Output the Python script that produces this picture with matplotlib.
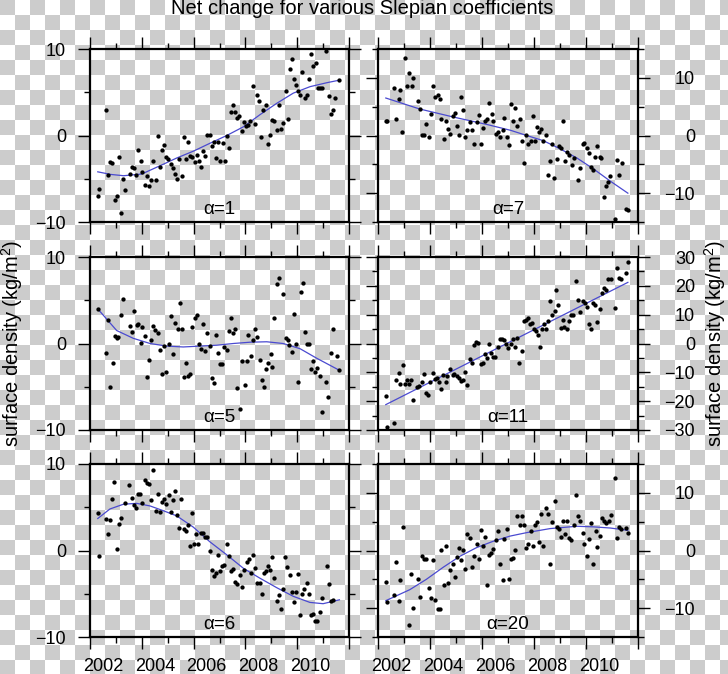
import numpy as np
import matplotlib
matplotlib.use("Agg")
import matplotlib.pyplot as plt
from matplotlib.ticker import MultipleLocator

plt.rcParams['font.family'] = ['Liberation Sans', 'DejaVu Sans']
plt.rcParams['mathtext.fontset'] = 'custom'
plt.rcParams['mathtext.rm'] = 'Liberation Sans'

# ---------------- data (year, surface density kg/m^2) ----------------
alpha1_obs = [(2002.30, -7.0), (2002.36, -6.2), (2002.60, 2.9), (2002.68, -4.6), (2002.77, -3.1),
              (2002.85, -3.2), (2002.97, -7.5), (2003.03, -7.0), (2003.12, -2.5), (2003.20, -9.0),
              (2003.26, -5.0), (2003.35, -6.3), (2003.54, -4.4), (2003.61, -3.6), (2003.70, -3.7),
              (2003.79, -4.6), (2003.87, -1.7), (2003.96, -2.9), (2004.01, -4.2), (2004.12, -5.7),
              (2004.20, -4.7), (2004.28, -5.8), (2004.36, -5.2), (2004.45, -3.0), (2004.55, -5.1),
              (2004.61, -0.1), (2004.70, -3.6), (2004.79, -1.7), (2004.87, -1.1), (2004.95, -2.5),
              (2005.02, -2.7), (2005.13, -3.3), (2005.22, -3.7), (2005.29, -4.4), (2005.37, -5.0),
              (2005.45, -2.7), (2005.54, -4.7), (2005.63, -0.2), (2005.71, -2.7), (2005.78, -0.8),
              (2005.87, -2.4), (2005.95, -2.5), (2006.04, -3.1), (2006.12, -2.2), (2006.20, -3.0),
              (2006.29, -3.6), (2006.38, -1.8), (2006.45, -2.4), (2006.53, 0.1), (2006.62, 0.1),
              (2006.70, -1.2), (2006.77, -0.7), (2006.88, -2.6), (2006.95, -0.8), (2007.03, -3.0),
              (2007.12, -0.9), (2007.20, -2.9), (2007.29, -0.1), (2007.37, -1.5), (2007.44, 2.7),
              (2007.52, 3.5), (2007.61, 2.7), (2007.69, 2.0), (2007.77, 2.3), (2007.86, 0.5),
              (2007.93, 1.6), (2008.02, 1.1), (2008.10, 1.2), (2008.19, 1.7), (2008.28, 5.7),
              (2008.37, 1.3), (2008.45, 4.7), (2008.54, 4.0), (2008.62, -0.2), (2008.69, 2.9),
              (2008.78, 3.5), (2008.87, -1.0), (2008.96, 0.1), (2009.04, 1.8), (2009.12, 1.7),
              (2009.21, 0.6), (2009.28, 3.5), (2009.36, 0.8), (2009.46, 1.5), (2009.55, 5.2),
              (2009.63, 1.9), (2009.71, 7.7), (2009.79, 8.9), (2009.86, 6.5), (2009.95, 5.8),
              (2010.03, 5.1), (2010.11, 4.7), (2010.20, 7.3), (2010.29, 4.3), (2010.37, 4.7),
              (2010.46, 6.5), (2010.55, 9.4), (2010.62, 8.0), (2010.71, 8.4), (2010.79, 5.5),
              (2010.87, 5.5), (2010.96, 5.5), (2011.11, 9.8), (2011.21, 4.6), (2011.29, 2.5),
              (2011.37, 3.0), (2011.46, 4.3), (2011.63, 6.4)]
alpha1_fit = [(2002.3, -4.2), (2002.8, -4.5), (2003.3, -4.65), (2004.0, -4.45), (2004.7, -3.5),
              (2005.35, -2.6), (2006.0, -1.8), (2006.63, -0.9), (2007.28, 0.0), (2007.92, 1.0),
              (2008.56, 2.4), (2009.2, 3.7), (2009.85, 4.9), (2010.5, 5.65), (2011.14, 6.1),
              (2011.63, 6.4)]

alpha7_obs = [(2002.30, 2.6), (2002.35, 2.6), (2002.62, 8.3), (2002.68, 2.9), (2002.80, 6.3),
              (2002.86, 7.9), (2002.94, 0.6), (2003.03, 13.5), (2003.13, 8.5), (2003.20, 10.8),
              (2003.29, 8.5), (2003.35, 10.0), (2003.54, 6.0), (2003.62, 4.6), (2003.71, 0.1),
              (2003.77, 0.1), (2003.86, 2.0), (2003.95, -0.2), (2004.02, 3.7), (2004.12, 8.6),
              (2004.21, 6.7), (2004.29, 7.1), (2004.37, 6.4), (2004.44, 2.8), (2004.53, -0.6),
              (2004.62, 2.5), (2004.70, 1.1), (2004.78, 0.3), (2004.87, 3.3), (2004.96, 3.9),
              (2005.05, 1.6), (2005.12, 0.1), (2005.20, 6.6), (2005.28, 4.4), (2005.35, -0.3),
              (2005.44, 1.0), (2005.53, 2.4), (2005.61, 1.0), (2005.70, -1.4), (2005.79, 2.4),
              (2005.87, 3.5), (2005.95, -1.5), (2006.04, 1.3), (2006.11, 2.5), (2006.20, 2.9),
              (2006.28, 5.6), (2006.37, 3.8), (2006.43, 2.6), (2006.54, 0.2), (2006.60, 0.6),
              (2006.70, -0.3), (2006.79, 1.0), (2006.86, 3.1), (2006.95, -0.3), (2007.04, -1.6),
              (2007.12, 5.4), (2007.19, 2.6), (2007.27, 4.8), (2007.36, 1.7), (2007.46, 2.8),
              (2007.55, -0.9), (2007.63, -4.8), (2007.69, 0.1), (2007.78, -1.5), (2007.87, -0.9),
              (2007.95, 3.4), (2008.04, -1.0), (2008.11, 1.5), (2008.20, 0.6), (2008.26, 1.2),
              (2008.36, -1.0), (2008.45, 0.1), (2008.53, -6.8), (2008.62, -4.4), (2008.71, -1.5),
              (2008.77, -7.4), (2008.88, -4.1), (2008.97, -1.9), (2009.03, -2.1), (2009.11, 2.5),
              (2009.20, -4.5), (2009.27, -2.8), (2009.36, -3.3), (2009.46, -5.1), (2009.53, -3.9),
              (2009.69, -7.8), (2009.78, -5.7), (2009.87, -1.5), (2009.94, -1.3), (2010.02, -2.1),
              (2010.10, -3.0), (2010.19, -5.4), (2010.26, -6.0), (2010.35, -3.8), (2010.43, -1.9),
              (2010.52, -3.8), (2010.59, -3.9), (2010.71, -10.6), (2010.78, -8.7), (2010.84, -8.1),
              (2010.93, -7.1), (2011.13, -14.5), (2011.19, -4.2), (2011.28, -6.8), (2011.37, -4.8),
              (2011.54, -12.8), (2011.61, -12.9)]
alpha7_fit = [(2002.3, 6.5), (2003.6, 4.6), (2004.9, 3.2), (2006.2, 1.9), (2007.1, 0.9),
              (2007.72, 0.0), (2008.36, -0.9), (2009.0, -2.3), (2009.65, -3.9), (2010.29, -5.8),
              (2010.93, -7.9), (2011.61, -10.0)]

alpha5_obs = [(2002.30, 4.0), (2002.62, -1.1), (2002.68, 2.7), (2002.77, -5.0), (2002.88, -2.2),
              (2002.97, 0.9), (2003.03, 0.6), (2003.09, 0.8), (2003.20, 3.3), (2003.27, 5.1),
              (2003.54, 2.0), (2003.62, 1.3), (2003.70, 3.7), (2003.80, 2.1), (2003.87, 2.2),
              (2003.96, 0.1), (2004.02, 1.9), (2004.11, 0.9), (2004.20, -3.9), (2004.29, -1.9),
              (2004.37, 0.4), (2004.45, 2.0), (2004.52, 1.6), (2004.61, 1.2), (2004.70, -0.8),
              (2004.78, -3.5), (2004.87, -0.3), (2004.95, -3.3), (2005.05, -0.1), (2005.14, 3.2),
              (2005.20, -1.2), (2005.29, 2.4), (2005.38, 1.7), (2005.46, 4.7), (2005.54, 1.7),
              (2005.63, -3.9), (2005.71, -2.2), (2005.78, -3.7), (2005.87, -3.5), (2005.95, 1.9),
              (2006.04, 3.0), (2006.12, 3.3), (2006.20, -0.1), (2006.29, -0.6), (2006.36, 2.3),
              (2006.45, -0.9), (2006.53, 1.2), (2006.62, -0.3), (2006.70, -4.0), (2006.77, -4.6),
              (2006.86, 1.0), (2006.94, -1.1), (2007.03, -2.4), (2007.10, -2.4), (2007.19, -0.4),
              (2007.28, -0.8), (2007.35, 1.5), (2007.44, 3.0), (2007.52, 1.2), (2007.60, 1.7),
              (2007.69, -5.1), (2007.79, -7.6), (2007.88, -2.0), (2007.97, -4.8), (2008.05, -2.0),
              (2008.11, 1.0), (2008.20, -1.4), (2008.29, 0.4), (2008.37, 1.7), (2008.45, 0.7),
              (2008.55, -1.9), (2008.64, -4.2), (2008.71, -5.0), (2008.80, -3.0), (2008.89, -2.2),
              (2008.98, -1.2), (2009.04, -2.7), (2009.12, 2.9), (2009.21, 6.9), (2009.28, 7.6),
              (2009.45, 5.7), (2009.55, 0.6), (2009.63, 0.4), (2009.70, -0.2), (2009.80, -1.0),
              (2009.88, 3.4), (2009.97, -0.1), (2010.04, -4.4), (2010.13, 5.9), (2010.21, 7.0),
              (2010.29, 1.3), (2010.37, 0.0), (2010.46, 0.0), (2010.53, -3.0), (2010.61, -2.0),
              (2010.70, -3.3), (2010.78, -2.8), (2010.87, -3.8), (2010.97, -7.9), (2011.12, -4.5),
              (2011.20, -6.2), (2011.29, -1.1), (2011.38, 1.7), (2011.55, -1.5), (2011.63, -3.1)]
alpha5_fit = [(2002.3, 4.0), (2003.03, 1.5), (2003.67, 0.6), (2004.32, 0.0), (2004.96, -0.3),
              (2005.6, -0.4), (2006.25, -0.3), (2006.89, -0.2), (2007.53, 0.0), (2008.18, 0.15),
              (2008.82, 0.2), (2009.46, 0.0), (2010.11, -0.6), (2010.75, -1.7), (2011.63, -3.1)]

alpha11_obs = [(2002.30, -18.2), (2002.36, -28.9), (2002.62, -27.4), (2002.71, -12.7), (2002.80, -10.1),
               (2002.86, -13.9), (2002.95, -7.4), (2003.03, -14.1), (2003.12, -12.7), (2003.18, -14.2),
               (2003.26, -12.7), (2003.35, -19.7), (2003.50, -15.0), (2003.58, -14.8), (2003.68, -13.3),
               (2003.76, -10.6), (2003.85, -17.3), (2003.93, -17.7), (2003.99, -13.5), (2004.10, -10.2),
               (2004.20, -12.4), (2004.28, -11.9), (2004.35, -13.5), (2004.43, -15.8), (2004.51, -11.0),
               (2004.61, -13.5), (2004.67, -11.3), (2004.76, -9.0), (2004.87, -10.8), (2004.94, -10.6),
               (2005.02, -11.3), (2005.11, -12.1), (2005.19, -12.9), (2005.28, -12.7), (2005.35, -9.8),
               (2005.43, -14.5), (2005.54, -5.4), (2005.62, -6.7), (2005.70, -0.6), (2005.77, 0.6),
               (2005.86, 0.2), (2005.95, -7.2), (2006.02, -6.7), (2006.10, -3.5), (2006.18, -5.2),
               (2006.25, 0.0), (2006.33, -3.2), (2006.41, -4.6), (2006.50, -4.6), (2006.60, -1.2),
               (2006.68, 1.7), (2006.76, 1.7), (2006.85, 1.2), (2006.94, -0.2), (2007.01, -1.4),
               (2007.10, 0.0), (2007.18, 1.5), (2007.27, -1.2), (2007.36, 2.0), (2007.44, -6.6),
               (2007.53, -2.7), (2007.60, 7.9), (2007.68, 8.3), (2007.76, 8.7), (2007.85, 6.6),
               (2007.93, 7.2), (2008.00, 4.9), (2008.08, 4.3), (2008.14, 2.9), (2008.22, -1.2),
               (2008.30, 5.0), (2008.38, 6.6), (2008.46, 4.9), (2008.53, 7.9), (2008.62, 14.7),
               (2008.71, 9.8), (2008.79, 11.2), (2008.86, 18.7), (2008.94, 13.5), (2009.02, 5.4),
               (2009.10, 8.1), (2009.17, 5.8), (2009.26, 5.2), (2009.35, 7.9), (2009.43, 9.8),
               (2009.51, 9.8), (2009.60, 21.6), (2009.69, 15.0), (2009.78, 11.0), (2009.87, 14.7),
               (2009.96, 14.1), (2010.02, 12.7), (2010.11, 6.9), (2010.19, 4.9), (2010.28, 14.1),
               (2010.35, 13.3), (2010.44, 7.5), (2010.52, 11.9), (2010.61, 17.6), (2010.70, 19.1),
               (2010.78, 18.5), (2010.86, 22.5), (2010.95, 22.5), (2011.11, 12.4), (2011.19, 26.2),
               (2011.28, 22.8), (2011.36, 22.2), (2011.54, 24.6), (2011.61, 28.1)]
alpha11_fit = [(2002.3, -21.2), (2006.95, 0.0), (2011.61, 21.2)]

alpha6_obs = [(2002.30, 4.3), (2002.36, -0.6), (2002.60, 3.6), (2002.68, 1.9), (2002.77, 3.5),
              (2002.86, 6.0), (2002.94, 7.9), (2003.03, 0.2), (2003.12, 3.1), (2003.18, 3.8),
              (2003.35, 5.5), (2003.52, 7.6), (2003.61, 6.1), (2003.70, 5.3), (2003.79, 4.9),
              (2003.87, 6.5), (2003.94, 6.5), (2004.01, 5.5), (2004.12, 8.1), (2004.20, 7.8),
              (2004.28, 7.7), (2004.36, 5.8), (2004.45, 9.3), (2004.54, 4.6), (2004.61, 6.5),
              (2004.70, 4.5), (2004.79, 5.6), (2004.87, 6.0), (2004.95, 5.4), (2005.04, 6.4),
              (2005.13, 4.4), (2005.20, 5.8), (2005.29, 6.9), (2005.36, 4.1), (2005.45, 2.6),
              (2005.53, 6.0), (2005.62, 2.5), (2005.69, 2.2), (2005.78, 2.9), (2005.87, 0.5),
              (2005.95, 4.3), (2006.03, 0.7), (2006.11, 1.9), (2006.18, 0.7), (2006.27, 2.0),
              (2006.35, 2.0), (2006.44, 1.6), (2006.52, 1.6), (2006.62, 0.0), (2006.70, -2.2),
              (2006.77, -2.9), (2006.86, -2.6), (2006.94, -0.5), (2007.03, -2.4), (2007.11, -1.8),
              (2007.19, -1.7), (2007.28, 0.8), (2007.35, -0.6), (2007.44, -2.4), (2007.52, -2.1),
              (2007.61, -3.6), (2007.69, -3.9), (2007.79, -2.8), (2007.87, -4.2), (2007.96, -2.2),
              (2008.05, -1.3), (2008.13, -1.0), (2008.22, -2.6), (2008.29, -0.5), (2008.38, -2.0),
              (2008.46, -3.7), (2008.55, -3.8), (2008.63, -5.0), (2008.72, -2.6), (2008.80, -2.4),
              (2008.89, -1.8), (2008.96, -2.2), (2009.04, -0.8), (2009.12, -3.2), (2009.21, -5.8),
              (2009.28, -5.2), (2009.36, -6.8), (2009.45, -4.4), (2009.52, -0.8), (2009.62, -1.9),
              (2009.71, -2.8), (2009.79, -4.8), (2009.86, -6.0), (2009.95, -4.8), (2010.03, -2.7),
              (2010.12, -7.4), (2010.20, -5.0), (2010.28, -4.4), (2010.37, -3.7), (2010.44, -5.0),
              (2010.53, -7.5), (2010.62, -7.3), (2010.70, -8.2), (2010.78, -8.1), (2010.88, -7.1),
              (2010.97, -5.5), (2011.14, -1.8), (2011.22, -3.9), (2011.29, -5.8), (2011.40, -5.7)]
alpha6_fit = [(2002.3, 3.7), (2002.77, 4.8), (2003.29, 5.35), (2003.8, 5.45), (2004.32, 5.15),
              (2004.83, 4.6), (2005.35, 4.0), (2005.99, 2.7), (2006.63, 1.0), (2007.28, -0.5),
              (2007.92, -2.05), (2008.56, -3.2), (2009.21, -4.3), (2009.85, -5.3), (2010.49, -6.0),
              (2011.0, -6.15), (2011.63, -5.7)]

alpha20_obs = [(2002.30, -5.4), (2002.36, -8.9), (2002.62, -7.7), (2002.71, -2.0), (2002.80, -8.7),
               (2002.86, -5.2), (2002.95, 4.1), (2003.20, -13.0), (2003.28, -4.0), (2003.35, -9.9),
               (2003.54, -4.9), (2003.62, -8.1), (2003.71, -0.9), (2003.77, -1.4), (2003.86, -1.4),
               (2003.95, -6.5), (2004.02, -8.2), (2004.12, -1.6), (2004.21, -8.5), (2004.29, -10.1),
               (2004.37, -10.1), (2004.44, 0.1), (2004.53, -5.9), (2004.62, 0.8), (2004.70, -5.6),
               (2004.78, -3.4), (2004.87, -2.3), (2004.96, -4.6), (2005.05, -1.1), (2005.12, 0.5),
               (2005.20, -1.6), (2005.28, 0.1), (2005.35, -3.2), (2005.44, 2.9), (2005.53, 2.1),
               (2005.61, -2.8), (2005.70, -0.9), (2005.79, 1.2), (2005.87, -1.4), (2005.95, 3.5),
               (2006.04, 0.8), (2006.11, 2.4), (2006.19, -5.9), (2006.28, -0.7), (2006.34, -0.4),
               (2006.43, 0.3), (2006.54, 1.9), (2006.63, 3.3), (2006.70, -2.4), (2006.79, -5.2),
               (2006.86, 2.0), (2006.95, 3.7), (2007.04, -4.9), (2007.12, -1.5), (2007.19, -1.3),
               (2007.27, 0.1), (2007.36, 5.9), (2007.45, 4.5), (2007.54, 5.9), (2007.62, 4.5),
               (2007.69, 0.5), (2007.78, 1.2), (2007.87, 3.4), (2007.95, 0.8), (2008.04, 4.4),
               (2008.11, 4.9), (2008.20, 1.5), (2008.27, 6.4), (2008.36, 0.8), (2008.45, 7.3),
               (2008.53, 6.4), (2008.62, -2.3), (2008.71, 4.9), (2008.79, 8.6), (2008.88, 4.1),
               (2008.97, 3.8), (2009.03, 2.4), (2009.11, 5.1), (2009.20, 2.8), (2009.27, 5.2),
               (2009.35, 2.2), (2009.43, 1.8), (2009.53, 4.5), (2009.60, 9.6), (2009.69, 5.9),
               (2009.78, 5.1), (2009.87, 3.0), (2009.94, 1.2), (2010.02, -0.9), (2010.11, 2.0),
               (2010.19, 4.8), (2010.27, -2.4), (2010.37, 3.4), (2010.44, 0.6), (2010.53, 2.6),
               (2010.62, 5.7), (2010.70, 5.2), (2010.78, 4.8), (2010.87, 5.2), (2010.95, 6.1),
               (2011.13, 12.5), (2011.20, 2.2), (2011.28, 4.1), (2011.36, 3.8), (2011.54, 3.9),
               (2011.61, 3.0)]
alpha20_fit = [(2002.3, -8.7), (2003.22, -6.8), (2003.86, -5.0), (2004.51, -2.9), (2005.15, -1.0),
               (2005.79, 0.5), (2006.43, 1.6), (2007.08, 2.5), (2007.72, 3.1), (2008.62, 3.8),
               (2009.0, 3.95), (2009.65, 4.2), (2010.29, 4.1), (2010.93, 3.9), (2011.61, 3.5)]

panel_labels = ['α=1', 'α=7', 'α=5', 'α=11', 'α=6', 'α=20']
panel_obs = [alpha1_obs, alpha7_obs, alpha5_obs, alpha11_obs, alpha6_obs, alpha20_obs]
panel_fit = [alpha1_fit, alpha7_fit, alpha5_fit, alpha11_fit, alpha6_fit, alpha20_fit]
panel_ylim = [(-10, 10), (-15, 15), (-10, 10), (-30, 30), (-10, 10), (-15, 15)]
year_range = (2002, 2012)
year_labels = [2002, 2004, 2006, 2008, 2010]
title = 'Net change for various Slepian coefficients'
ylabel = 'surface density (kg/m$\\mathregular{^2}$)'

# ---------------- figure ----------------
W, H = 728, 674
fig = plt.figure(figsize=(W / 100, H / 100), dpi=100)
fig.patch.set_facecolor('white')

# transparent-style checkerboard background
sq = 15
yy, xx = np.mgrid[0:H, 0:W]
board = np.where(((yy // sq + xx // sq) % 2) == 0, 0.80, 1.0)
fig.figimage(np.dstack([board, board, board]), xo=0, yo=0, origin='upper', zorder=-10)

col_left = [90 / W, 378 / W]
col_width = [259 / W, 260 / W]
row_bottom = [(H - 222) / H, (H - 430) / H, (H - 637) / H]
ax_h = 173 / H

PX = 0.72  # points per pixel
maj_len, min_len = 12 * PX, 6 * PX

for i in range(6):
    r, c = divmod(i, 2)
    ax = fig.add_axes([col_left[c], row_bottom[r], col_width[c], ax_h])
    ax.patch.set_visible(False)
    obs = np.array(panel_obs[i])
    fit = np.array(panel_fit[i])
    ax.plot(fit[:, 0], fit[:, 1], color='#4a4ad0', lw=0.9, zorder=2)
    ax.plot(obs[:, 0], obs[:, 1], 'o', color='black', ms=3.1, mew=0, zorder=3)
    ax.set_xlim(*year_range)
    ax.set_ylim(*panel_ylim[i])
    ax.xaxis.set_major_locator(MultipleLocator(2))
    ax.xaxis.set_minor_locator(MultipleLocator(1))
    ax.yaxis.set_major_locator(MultipleLocator(10))
    ax.yaxis.set_minor_locator(MultipleLocator(5))
    for sp in ax.spines.values():
        sp.set_linewidth(1.6)
    ax.tick_params(which='both', direction='out', top=True, right=True, left=True, bottom=True,
                   width=1.0, labelbottom=False, labeltop=False, labelsize=13)
    ax.tick_params(which='major', length=maj_len)
    ax.tick_params(which='minor', length=min_len)
    if c == 0:
        ax.tick_params(axis='y', which='major', labelleft=True, labelright=False, pad=8.6)
    else:
        ax.tick_params(axis='y', which='major', labelleft=False, labelright=True, pad=32.4)
        for tk in ax.yaxis.get_major_ticks():
            tk.label2.set_horizontalalignment('right')
    ax.text(0.5, 0.047, panel_labels[i], transform=ax.transAxes, ha='center', va='baseline',
            fontsize=13.5)
    if r == 2:
        sec = ax.secondary_xaxis('bottom')
        sec.set_xticks([y + 0.5 for y in year_labels], labels=[str(y) for y in year_labels])
        sec.tick_params(length=0, pad=14.8, labelsize=13)
        sec.spines['bottom'].set_visible(False)

fig.text(0.497, 1 - 14 / H, title, ha='center', va='baseline', fontsize=14.5)
fig.text(12 / W, 1 - 343 / H, ylabel, rotation=90, ha='center', va='center', fontsize=14.5)
fig.text(715 / W, 1 - 343 / H, ylabel, rotation=90, ha='center', va='center', fontsize=14.5)

fig.savefig('out.png', dpi=100)
